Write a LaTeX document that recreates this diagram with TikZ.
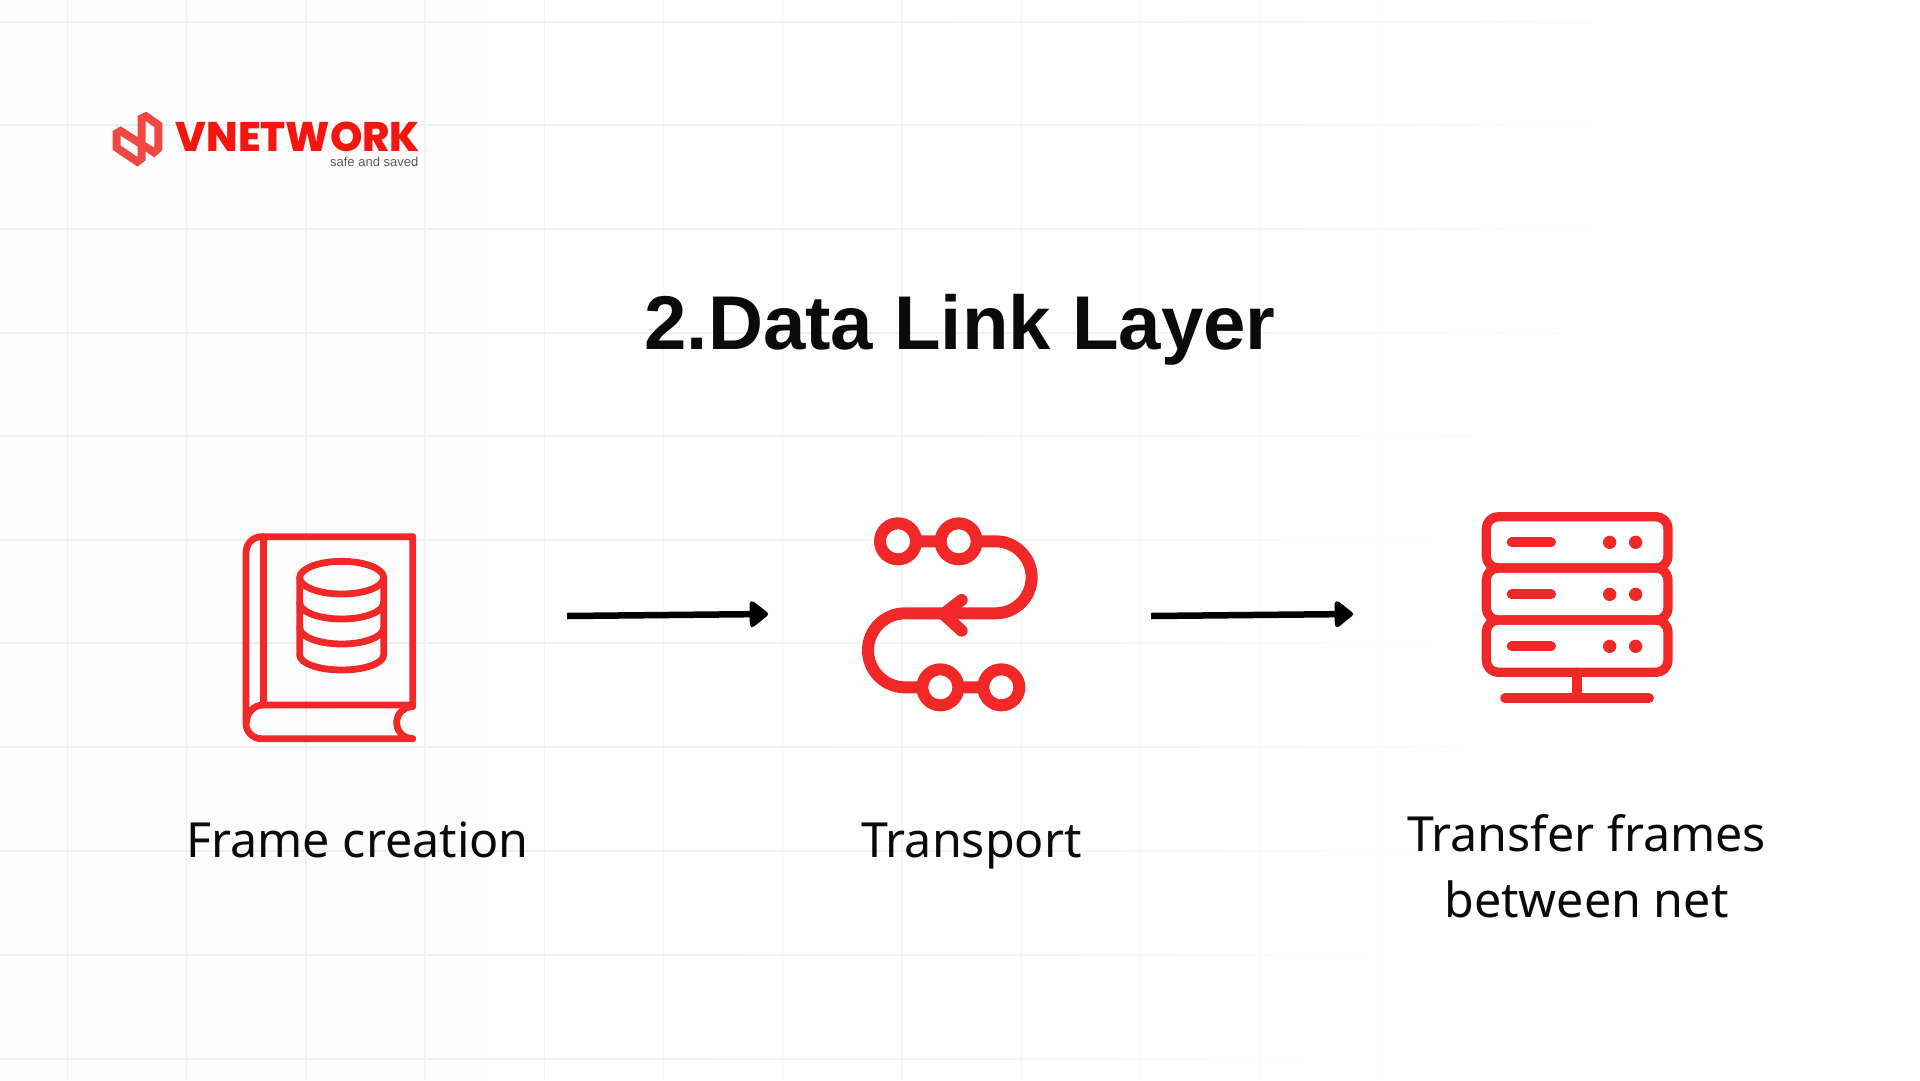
\documentclass[tikz,border=0pt]{standalone}
\usepackage{fontspec}
\setmainfont{Noto Sans}
\newfontfamily\logofont{Poppins}[BoldFont={Poppins ExtraBold}]
\newfontfamily\tagfont{Liberation Sans}
\newfontfamily\titlefont{Liberation Sans}
\usetikzlibrary{arrows.meta}
\definecolor{iconred}{HTML}{F12828}
\definecolor{logored}{HTML}{F5170F}
\definecolor{markred}{HTML}{EF4744}
\definecolor{gridgray}{HTML}{F0F0F3}
\definecolor{paperleft}{HTML}{FDFDFE}
\definecolor{inkblack}{HTML}{0A0A0A}
\tikzset{
  iconline/.style={draw=iconred, line join=round, line cap=round},
  markline/.style={draw=markred, line width=8pt, line join=miter},
  flowarrow/.style={draw=black, line width=6.5pt, -{Triangle[round,length=20pt,width=30pt]}},
  caption/.style={font=\fontsize{48.4}{66.7}\selectfont, text=inkblack, inner sep=0pt, anchor=base, align=center},
}
\begin{document}
\begin{tikzpicture}[x=1pt, y=-1pt]
\useasboundingbox (0,0) rectangle (1920,1080);
\shade [left color=paperleft, right color=white] (0,0) rectangle (1920,1080);
\foreach \k in {0,...,12} {
  \pgfmathsetmacro{\fadepct}{100-\k*7}
  \draw [gridgray!\fadepct!white, line width=1.4pt] ({67.5+119.2*\k},0) -- ({67.5+119.2*\k},1080);
}
\foreach \ypos/\xend in {21.5/1737,125/1737,229/1737,332.5/1700,436/1600,540/1500,643/1500,747/1600,851/1500,955/1440,1059/1370} {
  \shade [left color=gridgray, right color=white, middle color=gridgray] (0,\ypos-0.5) rectangle (\xend,\ypos+0.5);
}

\begin{scope}[shift={(100,105)}, scale=1/3]
\draw [markline] (125,40) -- (125,160) -- (112,170) -- (50,128) -- (50,85) -- (62,78) -- (125,118) -- (162,142) -- (175,130) -- (175,60) -- (138,34) -- cycle;
\end{scope}
\node (brand) [font=\logofont\bfseries\fontsize{41.3}{41}\selectfont, text=logored, inner sep=0pt, anchor=base west] at (175.5,151) {VNETWORK};
\node (slogan) [font=\tagfont\fontsize{13}{13}\selectfont, text=black!65, inner sep=0pt, anchor=base east] at (418.5,166) {safe and saved};

\node (title) [font=\titlefont\bfseries\fontsize{76.2}{76}\selectfont, text=inkblack, inner sep=0pt, anchor=base] at (960,349) {2.Data Link Layer};

\begin{scope}[shift={(220,510)}, scale=1/3]
\draw [iconline, line width=6.8pt] (578,80) -- (125,80) arc[start angle=-90, end angle=-180, radius=47] -- (78,640) arc[start angle=180, end angle=90, radius=46] -- (578,686);
\draw [iconline, line width=6.8pt] (130,80) -- (130,585);
\draw [iconline, line width=6.8pt] (578,80) -- (578,585) -- (130,585) arc[start angle=-90, end angle=-180, radius=50];
\draw [iconline, line width=6.8pt] (578,590) arc[start angle=-90, end angle=-270, radius=48];
\draw [iconline, line width=6.8pt] (365,203) ellipse[x radius=126, y radius=49];
\draw [iconline, line width=6.8pt] (239,203) -- (239,435) arc[start angle=180, end angle=0, x radius=126, y radius=45] -- (491,203);
\draw [iconline, line width=6.8pt] (239,278) arc[start angle=180, end angle=0, x radius=126, y radius=49];
\draw [iconline, line width=6.8pt] (239,353) arc[start angle=180, end angle=0, x radius=126, y radius=49];
\end{scope}

\begin{scope}[shift={(840,500)}, scale=1/3]
\draw [iconline, line width=12pt] (174,124) -- (467,124) arc[start angle=-90, end angle=90, radius=108] -- (195,340) arc[start angle=-90, end angle=-270, radius=111] -- (484,562);
\draw [iconline, line width=12pt] (365,300) -- (310,342) -- (365,392);
\foreach \cx/\cy in {174/124,356/124,301/562,484/562} {
  \filldraw [iconline, fill=white, line width=12pt] (\cx,\cy) circle (54);
}
\end{scope}

\begin{scope}[shift={(1460,500)}, scale=1/3]
\draw [iconline, line width=9.3pt, rounded corners=12pt] (79,50) rectangle (624,204);
\draw [iconline, line width=9.3pt, rounded corners=12pt] (79,204) rectangle (624,360);
\draw [iconline, line width=9.3pt, rounded corners=12pt] (79,360) rectangle (624,517);
\foreach \ypos in {127,283,439} {
  \draw [iconline, line width=10pt] (155,\ypos) -- (273,\ypos);
  \fill [iconred] (449,\ypos) circle (20);
  \fill [iconred] (527,\ypos) circle (20);
}
\draw [iconline, line width=9.3pt] (351,517) -- (351,595);
\draw [iconline, line width=9.7pt] (135,595) -- (567,595);
\end{scope}

\coordinate (frameout) at (567,616);
\coordinate (transportin) at (768,614);
\coordinate (transportout) at (1151,616);
\coordinate (serverin) at (1353,614);
\draw [flowarrow] (frameout) -- (transportin);
\draw [flowarrow] (transportout) -- (serverin);

\node (framelabel) [caption] at (357.5,857) {Frame creation};
\node (transportlabel) [caption] at (971.5,857) {Transport};
\node (serverlabel) [caption] at (1586.5,917.7) {Transfer frames\\between net};
\end{tikzpicture}
\end{document}
